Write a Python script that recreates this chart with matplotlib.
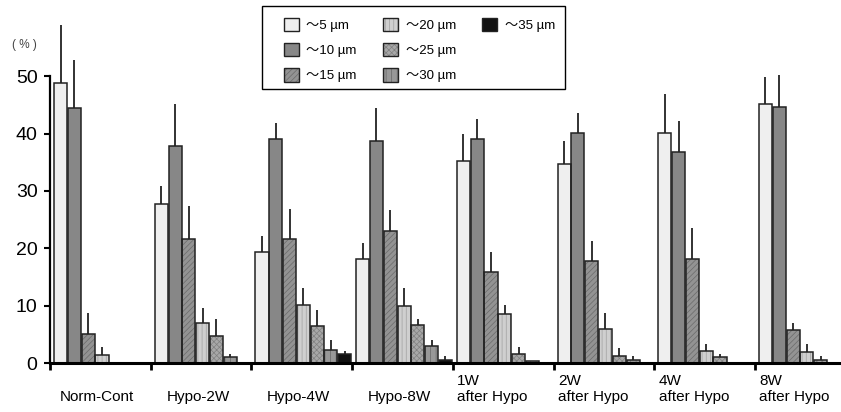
import matplotlib.pyplot as plt
import matplotlib.patches as mpatches
import numpy as np

plt.rcParams['font.family'] = ['Liberation Sans', 'Noto Sans CJK JP']
plt.rcParams['hatch.linewidth'] = 0.5

groups = ['Norm-Cont', 'Hypo-2W', 'Hypo-4W', 'Hypo-8W',
          '1W\nafter Hypo', '2W\nafter Hypo', '4W\nafter Hypo', '8W\nafter Hypo']
sizes = ['〜5 µm', '〜10 µm', '〜15 µm', '〜20 µm', '〜25 µm', '〜30 µm', '〜35 µm']

# mean (%) per size class, one value per group
m5 = [48.8, 27.7, 19.4, 18.2, 35.2, 34.7, 40.1, 45.1]
m10 = [44.5, 37.8, 39.0, 38.7, 39.0, 40.1, 36.8, 44.6]
m15 = [5.0, 21.7, 21.7, 23.1, 15.9, 17.7, 18.1, 5.7]
m20 = [1.4, 6.9, 10.2, 10.0, 8.5, 5.9, 2.1, 1.9]
m25 = [0, 4.7, 6.4, 6.7, 1.5, 1.2, 1.0, 0.6]
m30 = [0, 1.05, 2.2, 2.9, 0.3, 0.5, 0, 0]
m35 = [0, 0, 1.5, 0.6, 0, 0, 0, 0]

# error (upper SD)
sd5 = [10.1, 3.2, 2.8, 2.8, 4.7, 4.0, 6.8, 4.7]
sd10 = [8.3, 7.4, 2.8, 5.8, 3.6, 3.5, 5.4, 5.6]
sd15 = [3.7, 5.6, 5.2, 3.5, 3.4, 3.5, 5.4, 1.3]
sd20 = [1.4, 2.7, 2.8, 3.1, 1.6, 2.8, 1.2, 1.4]
sd25 = [0, 2.9, 2.8, 0.9, 1.3, 1.4, 0.6, 0.6]
sd30 = [0, 0.55, 1.8, 1.1, 0, 0.7, 0, 0]
sd35 = [0, 0, 0.6, 0.6, 0, 0, 0, 0]

means = [m5, m10, m15, m20, m25, m30, m35]
sds = [sd5, sd10, sd15, sd20, sd25, sd30, sd35]

# (face, hatch, hatch colour)
styles = [
    ('#efefef', None, '#efefef'),
    ('#878787', None, '#878787'),
    ('#939393', '//////', '#6a6a6a'),
    ('#cfcfcf', '||||', '#a0a0a0'),
    ('#a8a8a8', 'xxxxxx', '#808080'),
    ('#989898', '|||', '#666666'),
    ('#111111', None, '#111111'),
]

fig = plt.figure(figsize=(8.41, 4.12), dpi=100)
ax = fig.add_axes([50 / 841, 49 / 412, 791 / 841, 363 / 412])

edge = '#222222'
width = 0.13
pitch = 0.137
start = 0.04
handles = []
for k in range(7):
    m = np.array(means[k], dtype=float)
    sd = np.array(sds[k], dtype=float)
    x = np.arange(len(groups)) + start + k * pitch
    keep = m > 0
    face, hatch, hcol = styles[k]
    ax.bar(x[keep], m[keep], width=width, align='edge', color=face,
           hatch=hatch, edgecolor=hcol, linewidth=0, zorder=1)
    ax.bar(x[keep], m[keep], width=width, align='edge', fill=False,
           edgecolor=edge, linewidth=1.1, zorder=2)
    e = keep & (sd > 0)
    ax.vlines(x[e] + width / 2, m[e], m[e] + sd[e], color='#222222',
              linewidth=1.3, zorder=1.5)
    handles.append((mpatches.Patch(facecolor=face, hatch=hatch, edgecolor=hcol, linewidth=0),
                    mpatches.Patch(fill=False, edgecolor=edge, linewidth=1.0)))

ax.set_xlim(0, 7.855)
ax.set_ylim(0, 63.3)

for s in ['top', 'right']:
    ax.spines[s].set_visible(False)
ax.spines['left'].set_bounds(0, 50)
ax.spines['left'].set_linewidth(1.6)
ax.spines['bottom'].set_linewidth(2.2)

ax.set_yticks([0, 10, 20, 30, 40, 50])
ax.tick_params(axis='y', direction='out', length=4, width=1.5, labelsize=14, pad=5)
ax.set_xticks(np.arange(len(groups)))
ax.set_xticklabels([])
ax.tick_params(axis='x', direction='out', length=5, width=2)

# group labels under the axis
tr = ax.get_xaxis_transform()
for i, g in enumerate(groups):
    if '\n' in g:
        ax.text(i + 0.045, -38 / 363, g, ha='left', va='baseline', fontsize=11,
                transform=tr, clip_on=False, linespacing=1.2)
    else:
        ax.text(i + 0.47, -38 / 363, g, ha='center', va='baseline', fontsize=11,
                transform=tr, clip_on=False)

fig.text(24 / 841, 1 - 45 / 412, '( % )', ha='center', va='center', fontsize=8.5, color='#444444')

# legend: pad to 9 entries so the columns hold 3, 3, 1
blank = mpatches.Patch(facecolor='none', edgecolor='none')
leg_handles = handles + [blank, blank]
leg_labels = sizes + ['', '']
leg = ax.legend(leg_handles, leg_labels, ncol=3, loc='upper left',
                bbox_to_anchor=(284 / 841, 1 - 18 / 412), bbox_transform=fig.transFigure,
                frameon=False, fontsize=9.5, borderpad=0, borderaxespad=0,
                handlelength=1.15, handleheight=1.15, handletextpad=0.55,
                columnspacing=2.0, labelspacing=0.85)
fig.patches.append(mpatches.Rectangle((262 / 841, 1 - 89 / 412), 303 / 841, 83 / 412,
                                      transform=fig.transFigure, fill=False,
                                      edgecolor='black', linewidth=1.0))

fig.savefig('out.png', dpi=100)
